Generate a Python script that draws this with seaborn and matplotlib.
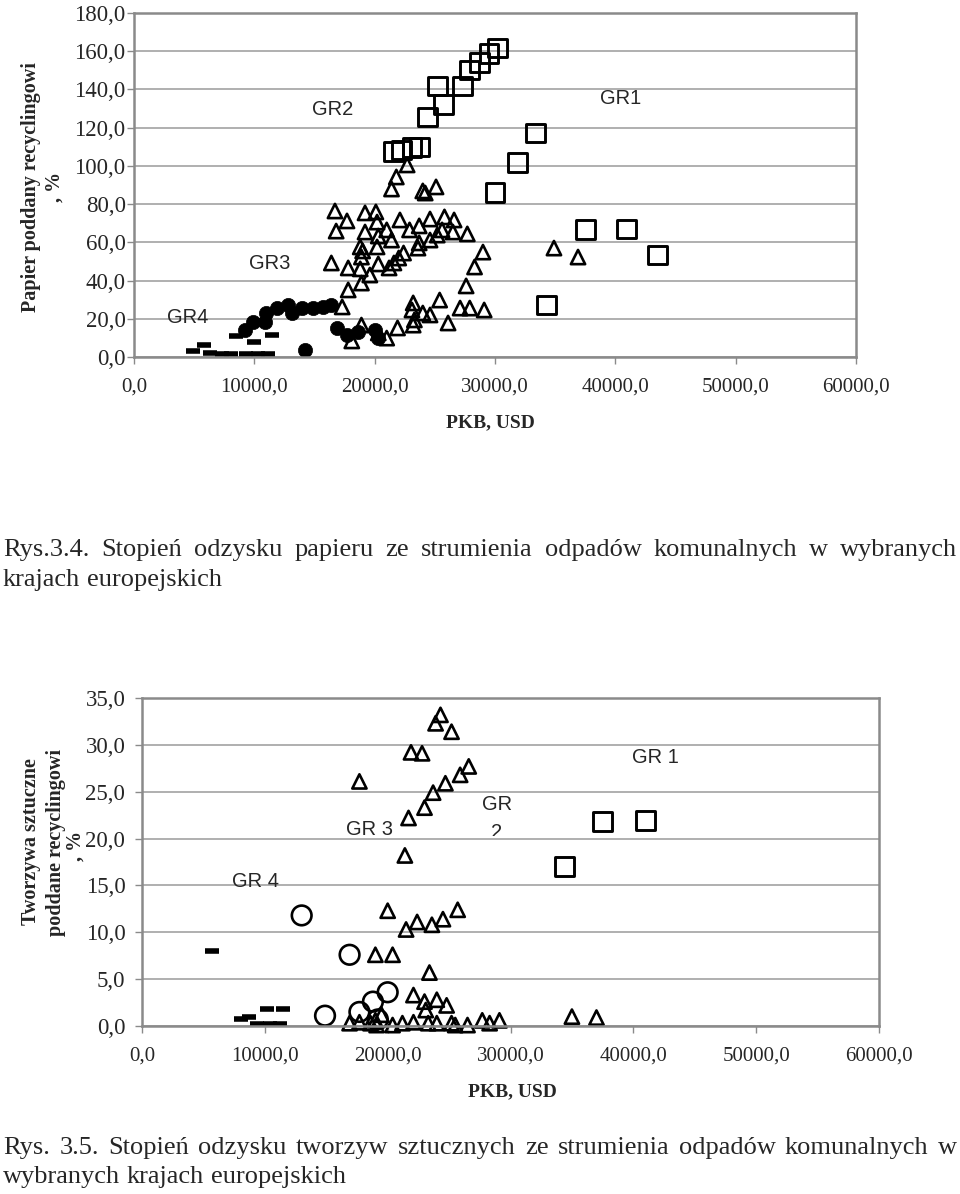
import matplotlib
matplotlib.use("Agg")
import matplotlib.pyplot as plt
import seaborn as sns
import pandas as pd
from matplotlib.patches import Rectangle

# ---------------- DATA: Rys. 3.4 (paper) ----------------
paper_sq_x = [21600, 22200, 23100, 23700, 24400, 25200, 25700, 27300, 27900, 28700, 29500,
              30200, 31900, 33400, 30000, 34300, 37500, 40900, 43500]
paper_sq_y = [107.3, 108.3, 109.4, 109.9, 125.6, 141.8, 131.9, 141.8, 150.2, 153.9, 158.6,
              161.7, 102.0, 117.2, 86.3, 27.2, 66.5, 67.0, 53.4]

paper_tri_x = [22700, 21800, 21400, 24000, 24200, 25100, 16700, 17700, 16800, 19200, 20100,
               20200, 19200, 21000, 22100, 22900, 23700, 24600, 25800, 26600, 27700, 26500,
               25600, 25200, 24600, 23700, 23600, 21400, 20300, 20200, 18800, 19000, 18900,
               22400, 22000, 21600, 21200, 20300, 18800, 17800, 16400, 19600, 18900, 17800,
               29000, 28300, 27600, 23200, 25400, 23100, 24000, 24600, 26100, 27100, 27900,
               29100, 23200, 21900, 21000, 18100, 18900, 20300, 34900, 36900, 17300, 23300]
paper_tri_y = [100.5, 94.2, 87.9, 86.9, 85.8, 89.0, 76.4, 71.2, 65.9, 75.4, 75.9,
               70.6, 65.4, 66.5, 71.7, 66.5, 68.6, 72.2, 73.3, 71.7, 64.4, 65.4,
               66.5, 63.8, 61.2, 59.7, 57.0, 61.2, 63.3, 57.6, 57.6, 55.5, 52.3,
               54.4, 51.8, 49.2, 46.6, 48.7, 46.1, 46.6, 49.2, 42.9, 38.7, 35.1,
               54.9, 47.1, 37.2, 28.3, 29.8, 24.6, 23.0, 22.0, 17.8, 25.6, 25.6,
               24.6, 16.7, 15.2, 9.9, 8.4, 16.7, 12.6, 57.0, 52.3, 26.2, 19.4]

paper_dot_x = [9200, 9900, 10900, 11000, 11900, 12800, 13100, 14000, 14900, 15700, 16400,
               16900, 17700, 18600, 20000, 20300, 14200]
paper_dot_y = [14.1, 18.3, 18.3, 23.0, 25.6, 27.2, 23.0, 25.6, 25.6, 26.2, 27.2,
               15.2, 11.5, 13.1, 14.1, 9.9, 3.7]

paper_dash_x = [4900, 5800, 6300, 7300, 8100, 9300, 10300, 11100, 8500, 10000, 11500]
paper_dash_y = [3.1, 6.3, 2.1, 1.6, 1.6, 1.6, 1.6, 1.6, 11.0, 7.8, 11.5]

# ---------------- DATA: Rys. 3.5 (plastics) ----------------
plast_sq_x = [37500, 41000, 34400]
plast_sq_y = [21.8, 21.9, 17.0]

plast_tri_x = [24300, 23900, 25200, 21900, 22800, 17700, 26600, 25900, 24700, 23700, 23000,
               21700, 21400, 20000, 21500, 22400, 23600, 24500, 25700, 19000, 20400, 23400,
               22100, 23000, 24000, 24800, 23100, 16900, 17700, 18600, 19000, 19100, 19500,
               20400, 21200, 22100, 23300, 24000, 25200, 25500, 26500, 27700, 28300, 29100,
               35000, 37000]
plast_tri_y = [33.2, 32.3, 31.4, 29.2, 29.1, 26.1, 27.7, 26.8, 25.9, 24.9, 23.3,
               22.2, 18.2, 12.3, 10.3, 11.1, 10.8, 11.4, 12.4, 7.6, 7.6, 5.7,
               3.3, 2.6, 2.8, 2.2, 1.7, 0.3, 0.4, 0.3, 0.6, 0.1, 1.2,
               0.1, 0.3, 0.4, 0.3, 0.3, 0.3, 0.1, 0.1, 0.6, 0.3, 0.6,
               1.0, 0.9]

plast_circ_x = [13000, 16900, 20000, 18800, 17700, 14900, 19200]
plast_circ_y = [11.8, 7.6, 3.6, 2.6, 1.5, 1.1, 0.7]

plast_dash_x = [5700, 8100, 8700, 10200, 11500, 9400, 10400, 11200]
plast_dash_y = [8.0, 0.8, 1.0, 1.8, 1.8, 0.2, 0.2, 0.2]

x_ticks = [0, 10000, 20000, 30000, 40000, 50000, 60000]
top_y_ticks = [0, 20, 40, 60, 80, 100, 120, 140, 160, 180]
bot_y_ticks = [0, 5, 10, 15, 20, 25, 30, 35]

caption1 = ["Rys.3.4. Stopień odzysku papieru ze strumienia odpadów komunalnych w wybranych",
            "krajach europejskich"]
caption2 = ["Rys. 3.5. Stopień odzysku tworzyw sztucznych ze strumienia odpadów komunalnych w",
            "wybranych krajach europejskich"]
bottom_ylabel_lines = ["Tworzywa sztuczne", "poddane recyclingowi", ", %"]

# ---------------- STYLE ----------------
sns.set_theme(style="white")
plt.rcParams["font.family"] = ["Liberation Serif", "DejaVu Serif"]

W, H = 960, 1194
fig = plt.figure(figsize=(W / 100, H / 100), dpi=100)
SERIF = ["Liberation Serif", "DejaVu Serif"]
SANS = ["Liberation Sans", "DejaVu Sans"]
FRAME = "#8a8a8a"
GRID = "#9a9a9a"


def px_axes(l, t, r, b):
    return fig.add_axes([l / W, 1 - b / H, (r - l) / W, (b - t) / H])


def fmt(v):
    return f"{v:.1f}".replace(".", ",")


def style_axes(ax, yticks, ymax, ypad):
    ax.set_xlim(0, 60000)
    ax.set_ylim(0, ymax)
    ax.set_xticks(x_ticks)
    ax.set_xticklabels([fmt(v) for v in x_ticks], fontfamily=SERIF, fontsize=15)
    ax.set_yticks(yticks)
    ax.set_yticklabels([fmt(v) for v in yticks], fontfamily=SERIF, fontsize=16.5)
    ax.tick_params(axis="x", direction="out", length=5, width=1, color=FRAME, pad=10, bottom=True)
    ax.tick_params(axis="y", direction="out", length=5, width=1, color=FRAME, pad=ypad, left=True)
    ax.yaxis.grid(True, color=GRID, linewidth=1.1)
    ax.xaxis.grid(False)
    ax.set_axisbelow(True)
    for sp in ax.spines.values():
        sp.set_visible(True)
        sp.set_color(FRAME)
        sp.set_linewidth(1.8)
    ax.set_facecolor("white")


def scatter_groups(ax, groups):
    for xs, ys, kw in groups:
        df = pd.DataFrame({"x": xs, "y": ys})
        sns.scatterplot(data=df, x="x", y="y", ax=ax, legend=False, clip_on=False, **kw)
    ax.set_xlabel("")
    ax.set_ylabel("")


# ---------------- TOP CHART ----------------
ax1 = px_axes(134, 13, 856, 357)
style_axes(ax1, top_y_ticks, 180, 1)
scatter_groups(ax1, [
    (paper_tri_x, paper_tri_y, dict(marker="^", s=105, color="none", edgecolor="black", linewidth=1.9)),
    (paper_sq_x, paper_sq_y, dict(marker="s", s=185, color="none", edgecolor="black", linewidth=2.1)),
    (paper_dot_x, paper_dot_y, dict(marker="o", s=105, color="black", edgecolor="black", linewidth=0.5)),
    (paper_dash_x, paper_dash_y, dict(marker="_", s=110, color="black", linewidth=4)),
])
for txt, x, y in [("GR2", 16500, 129.3), ("GR1", 40400, 135.5), ("GR3", 11300, 48.7), ("GR4", 4500, 20.9)]:
    ax1.text(x, y, txt, ha="center", va="center", fontfamily=SANS, fontsize=14.5)
fig.text(490 / W, 1 - 423 / H, "PKB, USD", ha="center", va="center",
         fontfamily=SERIF, fontsize=14, fontweight="bold")
fig.text(43 / W, 1 - 187 / H, "Papier poddany recyclingowi\n, %", ha="center", va="center",
         rotation=90, fontfamily=SERIF, fontsize=14.5, fontweight="bold", linespacing=1.25,
         multialignment="center")

# ---------------- BOTTOM CHART ----------------
ax2 = px_axes(142, 698, 879, 1026)
style_axes(ax2, bot_y_ticks, 35, 7)
scatter_groups(ax2, [
    (plast_tri_x, plast_tri_y, dict(marker="^", s=105, color="none", edgecolor="black", linewidth=1.9)),
    (plast_circ_x, plast_circ_y, dict(marker="o", s=200, color="none", edgecolor="black", linewidth=1.9)),
    (plast_sq_x, plast_sq_y, dict(marker="s", s=185, color="none", edgecolor="black", linewidth=2.1)),
    (plast_dash_x, plast_dash_y, dict(marker="_", s=110, color="black", linewidth=4)),
])
for txt, x, y in [("GR 4", 9200, 15.4), ("GR 3", 18560, 21.0), ("GR", 28900, 23.6), ("GR 1", 41760, 28.6)]:
    ax2.text(x, y, txt, ha="center", va="center", fontfamily=SANS, fontsize=14.5)
t2 = ax2.text(28900, 20.6, "2", ha="center", va="center", fontfamily=SANS, fontsize=14.5)
clip = Rectangle((26000, 20.25), 6000, 5, transform=ax2.transData)
t2.set_clip_path(clip)
t2.set_clip_on(True)
fig.text(512 / W, 1 - 1092 / H, "PKB, USD", ha="center", va="center",
         fontfamily=SERIF, fontsize=14, fontweight="bold")
for line, xpx, ypx in zip(bottom_ylabel_lines, [31, 56, 76], [842, 842, 846]):
    fig.text(xpx / W, 1 - ypx / H, line, ha="center", va="center", rotation=90,
             fontfamily=SERIF, fontsize=14.5, fontweight="bold")

# ---------------- CAPTIONS (justified) ----------------
renderer = fig.canvas.get_renderer()


def justified(line, y_px, x0=3, x1=957, justify=True, size=19):
    words = line.split(" ")
    texts = [fig.text(0, 1 - y_px / H, w, ha="left", va="center", fontfamily=SERIF, fontsize=size)
             for w in words]
    widths = [t.get_window_extent(renderer).width for t in texts]
    if justify and len(words) > 1:
        gap = (x1 - x0 - sum(widths)) / (len(words) - 1)
    else:
        sp = fig.text(0, 0, "a a", fontfamily=SERIF, fontsize=size)
        sp2 = fig.text(0, 0, "aa", fontfamily=SERIF, fontsize=size)
        gap = sp.get_window_extent(renderer).width - sp2.get_window_extent(renderer).width
        sp.remove()
        sp2.remove()
    x = x0
    for t, w in zip(texts, widths):
        t.set_x(x / W)
        x += w + gap


justified(caption1[0], 550)
justified(caption1[1], 580, justify=False)
justified(caption2[0], 1148)
justified(caption2[1], 1177, justify=False)

fig.savefig("out.png", dpi=100, facecolor="white")
